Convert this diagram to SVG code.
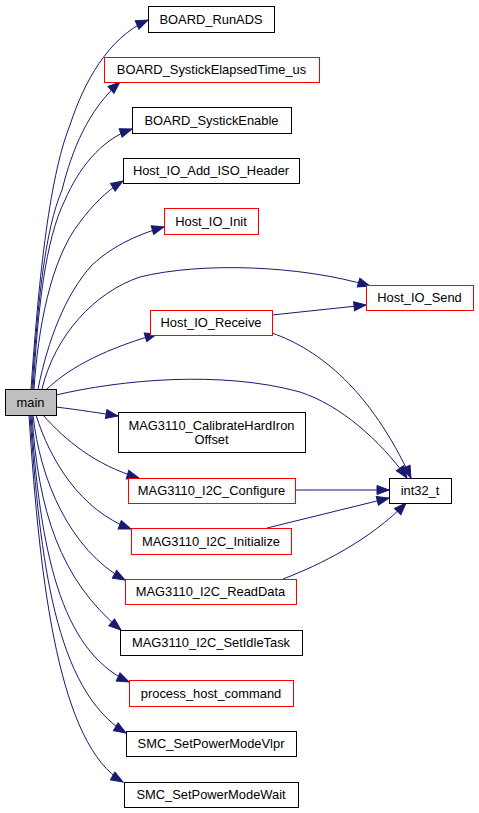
<svg xmlns="http://www.w3.org/2000/svg" width="479" height="813" viewBox="0 0 479 813">
<style>
.n rect{fill:#ffffff;stroke:#000000;stroke-width:1}
.n.r rect{stroke:#ff0000}
.n.m rect{fill:#bfbfbf}
.n text{font-family:"Liberation Sans",Arial,sans-serif;font-size:12.9px;fill:#000000;text-anchor:middle}
.e path{fill:none;stroke:#191970;stroke-width:1;marker-end:url(#ah)}
</style>
<defs>
<marker id="ah" markerUnits="userSpaceOnUse" markerWidth="14" markerHeight="11" refX="13" refY="5.5" orient="auto">
<path d="M1,1 L13,5.5 L1,10 z" fill="#191970" stroke="#191970" stroke-width="1"/>
</marker>
</defs>
<rect width="479" height="813" fill="#ffffff"/>
<g id="edges" class="e">
<path d="M31,389 C38,290 48,180 70,125 C84,82 108,38 148,20"/>
<path d="M32,389 C38,300 45,230 62,190 C72,150 88,110 120,82"/>
<path d="M33,389 C38,310 45,240 65,200 C78,170 100,140 132,129"/>
<path d="M34,389 C38,330 50,260 80,222 C92,206 105,192 123,181"/>
<path d="M38,389 C48,340 65,295 92,265 C110,248 135,235 164,227"/>
<path d="M42,389 C55,335 95,292 140,277 C200,262 300,265 370,286"/>
<path d="M47,389 C65,372 95,352 157,334"/>
<path d="M56,395 C120,380 220,370 300,392 C340,405 380,440 407,478"/>
<path d="M56,407 C80,410 100,413 118,416"/>
<path d="M43,415 C65,440 95,465 139,478"/>
<path d="M36,415 C50,460 80,510 131,529"/>
<path d="M33,415 C40,480 70,550 125,580"/>
<path d="M32,415 C38,510 60,580 121,630"/>
<path d="M31,415 C40,550 60,650 129,682"/>
<path d="M30,415 C40,560 55,690 126,733"/>
<path d="M29,415 C40,590 60,745 123,782"/>
<path d="M272,315 L366,305"/>
<path d="M272,333 C320,350 370,390 411,478"/>
<path d="M295,490 L389,490"/>
<path d="M267,528 L389,498"/>
<path d="M283,579 C320,565 370,540 406,503"/>
</g>
<g id="main" class="n m"><rect x="5.5" y="389.5" width="51" height="26"/><text x="30.5" y="406.5">main</text></g>
<g id="BOARD_RunADS" class="n"><rect x="148.5" y="6.5" width="126" height="26"/><text x="211" y="23.5">BOARD_RunADS</text></g>
<g id="BOARD_SystickElapsedTime_us" class="n r"><rect x="104.5" y="57.5" width="215" height="25"/><text x="211.5" y="74">BOARD_SystickElapsedTime_us</text></g>
<g id="BOARD_SystickEnable" class="n"><rect x="132.5" y="107.5" width="159" height="26"/><text x="211.5" y="124.5">BOARD_SystickEnable</text></g>
<g id="Host_IO_Add_ISO_Header" class="n"><rect x="123.5" y="158.5" width="176" height="25"/><text x="211" y="175">Host_IO_Add_ISO_Header</text></g>
<g id="Host_IO_Init" class="n r"><rect x="164.5" y="208.5" width="94" height="26"/><text x="211" y="225.5">Host_IO_Init</text></g>
<g id="Host_IO_Send" class="n r"><rect x="366.5" y="285.5" width="107" height="25"/><text x="419.5" y="302">Host_IO_Send</text></g>
<g id="Host_IO_Receive" class="n r"><rect x="150.5" y="310.5" width="122" height="25"/><text x="211" y="327">Host_IO_Receive</text></g>
<g id="MAG3110_CalibrateHardIronOffset" class="n"><rect x="118.5" y="412.5" width="187" height="40"/><text x="211.5" y="429.5">MAG3110_CalibrateHardIron</text><text x="211.5" y="443.5">Offset</text></g>
<g id="int32_t" class="n"><rect x="389.5" y="478.5" width="62" height="25"/><text x="420" y="495">int32_t</text></g>
<g id="MAG3110_I2C_Configure" class="n r"><rect x="128.5" y="478.5" width="167" height="25"/><text x="211.5" y="495">MAG3110_I2C_Configure</text></g>
<g id="MAG3110_I2C_Initialize" class="n r"><rect x="131.5" y="528.5" width="160" height="26"/><text x="211" y="545.5">MAG3110_I2C_Initialize</text></g>
<g id="MAG3110_I2C_ReadData" class="n r"><rect x="125.5" y="579.5" width="171" height="25"/><text x="210.5" y="596">MAG3110_I2C_ReadData</text></g>
<g id="MAG3110_I2C_SetIdleTask" class="n"><rect x="120.5" y="630.5" width="182" height="25"/><text x="211" y="647">MAG3110_I2C_SetIdleTask</text></g>
<g id="process_host_command" class="n r"><rect x="129.5" y="680.5" width="164" height="26"/><text x="211" y="697.5">process_host_command</text></g>
<g id="SMC_SetPowerModeVlpr" class="n"><rect x="126.5" y="731.5" width="170" height="25"/><text x="211" y="748">SMC_SetPowerModeVlpr</text></g>
<g id="SMC_SetPowerModeWait" class="n"><rect x="124.5" y="782.5" width="174" height="25"/><text x="211" y="799">SMC_SetPowerModeWait</text></g>
</svg>
